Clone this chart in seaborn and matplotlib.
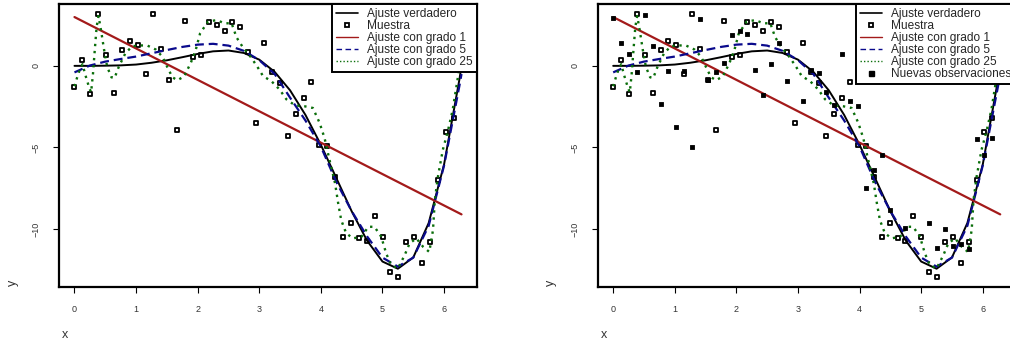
import matplotlib
matplotlib.use('Agg')
import matplotlib.pyplot as plt
import seaborn as sns
from matplotlib.lines import Line2D

# muestra original (50 puntos) y nuevas observaciones en las mismas x
x_muestra = [0.000, 0.128, 0.256, 0.385, 0.513, 0.641, 0.769, 0.898, 1.026, 1.154,
             1.282, 1.411, 1.539, 1.667, 1.795, 1.923, 2.052, 2.180, 2.308, 2.436,
             2.565, 2.693, 2.821, 2.949, 3.077, 3.206, 3.334, 3.462, 3.590, 3.719,
             3.847, 3.975, 4.103, 4.232, 4.360, 4.488, 4.616, 4.744, 4.873, 5.001,
             5.129, 5.257, 5.386, 5.514, 5.642, 5.770, 5.899, 6.027, 6.155, 6.283]
y_muestra = [-1.29, 0.37, -1.70, 3.15, 0.65, -1.64, 1.00, 1.54, 1.25, -0.47,
             3.15, 1.04, -0.86, -3.96, 2.77, 0.53, 0.69, 2.70, 2.52, 2.11,
             2.70, 2.40, 0.82, -3.50, 1.41, -0.35, -1.04, -4.27, -2.97, -1.99,
             -0.98, -4.84, -4.92, -6.82, -10.51, -9.65, -10.57, -10.72, -9.18, -10.47,
             -12.62, -12.91, -10.82, -10.51, -12.09, -10.82, -6.97, -4.06, -3.20, 1.00]
y_nuevas = [2.93, 1.37, 0.71, -0.39, 3.11, 1.19, -2.34, -0.29, -3.75, -0.29,
            -4.96, 2.86, -0.88, -0.39, 0.18, 1.88, 2.11, 1.94, -0.23, -1.81,
            0.14, 1.37, -0.92, 4.40, -2.15, -0.25, -0.42, -1.62, -2.38, 0.70,
            -2.13, -2.44, -7.50, -6.36, -5.48, -8.85, -14.60, -9.93, -14.30, -13.60,
            -9.62, -11.17, -9.99, -11.05, -10.93, -11.20, -4.51, -5.45, -4.44, 1.50]

# curvas
x_curva = [0.0, 0.25, 0.5, 0.75, 1.0, 1.25, 1.5, 1.75, 2.0, 2.25, 2.5, 2.75, 3.0,
           3.25, 3.5, 3.75, 4.0, 4.25, 4.5, 4.75, 5.0, 5.25, 5.5, 5.75, 6.0, 6.25, 6.283]
y_verdadero = [0.00, 0.00, 0.01, 0.03, 0.08, 0.19, 0.34, 0.53, 0.73, 0.89, 0.94, 0.79, 0.38,
               -0.37, -1.50, -3.01, -4.84, -6.87, -8.91, -10.71, -11.99, -12.43, -11.74,
               -9.63, -6.04, -0.81, 0.00]
y_grado5 = [-0.40, 0.02, 0.26, 0.42, 0.57, 0.77, 0.97, 1.16, 1.30, 1.35, 1.24, 0.92, 0.35,
            -0.50, -1.95, -3.35, -4.95, -7.10, -8.90, -10.45, -11.75, -12.30, -11.75,
            -9.80, -6.10, -1.20, -0.50]
x_grado1 = [0.0, 6.283]
y_grado1 = [2.99, -9.10]
x_grado25 = [0.00, 0.04, 0.08, 0.13, 0.18, 0.24, 0.27, 0.30, 0.33, 0.36, 0.39, 0.43, 0.48,
             0.53, 0.60, 0.65, 0.72, 0.83, 0.94, 1.05, 1.18, 1.32, 1.43, 1.51, 1.59, 1.67,
             1.78, 1.89, 1.97, 2.04, 2.17, 2.31, 2.44, 2.55, 2.63, 2.74, 2.85, 2.96, 3.06,
             3.20, 3.33, 3.44, 3.58, 3.74, 3.87, 3.98, 4.06, 4.14, 4.23, 4.28, 4.33, 4.41,
             4.52, 4.66, 4.77, 4.87, 4.98, 5.06, 5.14, 5.25, 5.36, 5.44, 5.55, 5.66, 5.76,
             5.82, 5.85, 5.90, 5.98, 6.06, 6.14, 6.22, 6.283]
y_grado25 = [-1.25, -0.75, -0.30, 0.10, -0.60, -1.35, -1.62, -0.50, 1.00, 2.40, 3.05, 2.20, 1.00,
             -0.05, -0.70, -0.75, -0.05, 0.80, 1.20, 1.25, 1.25, 1.00, 0.55, -0.10, -0.70, -0.88,
             -0.65, 0.20, 1.00, 2.00, 2.72, 2.80, 2.60, 2.62, 1.75, 1.10, 0.60, 0.00, -0.62,
             -0.95, -1.45, -2.05, -2.42, -2.48, -2.58, -3.50, -4.43, -5.76, -7.19, -8.40, -9.45, -10.25,
             -10.57, -10.47, -9.86, -9.86, -10.47, -11.49, -12.20, -12.42, -11.60, -10.88, -10.57, -11.09, -11.40,
             -10.06, -8.22, -6.79, -5.14, -4.02, -2.69, -0.80, 1.00]

etiquetas = ['Ajuste verdadero', 'Muestra', 'Ajuste con grado 1',
             'Ajuste con grado 5', 'Ajuste con grado 25']
etiqueta_nuevas = 'Nuevas observaciones'

ROJO = '#a31a1a'
AZUL = '#0a0a8c'
VERDE = '#0a6e0a'

sns.set_theme(style='white')
plt.rcParams['font.family'] = ['Liberation Sans', 'DejaVu Sans']


def dibujar_panel(ax, con_nuevas):
    sns.scatterplot(x=x_muestra, y=y_muestra, marker='s', s=11, color='white',
                    edgecolor='black', linewidth=1.3, ax=ax, zorder=2, legend=False)
    sns.lineplot(x=x_curva, y=y_verdadero, color='black', lw=1.4, ax=ax,
                 estimator=None, sort=False, zorder=3)
    sns.lineplot(x=x_grado1, y=y_grado1, color=ROJO, lw=1.6, ax=ax,
                 estimator=None, sort=False, zorder=3)
    sns.lineplot(x=x_curva, y=y_grado5, color=AZUL, lw=1.6, ax=ax, estimator=None,
                 sort=False, zorder=3, linestyle=(0, (4, 2.2)))
    sns.lineplot(x=x_grado25, y=y_grado25, color=VERDE, lw=1.7, ax=ax, estimator=None,
                 sort=False, zorder=3, linestyle=(0, (1, 2.0)))

    handles = [
        Line2D([], [], color='black', lw=1.2),
        Line2D([], [], ls='none', marker='s', ms=3.2, mfc='white', mec='black', mew=1.3),
        Line2D([], [], color=ROJO, lw=1.0),
        Line2D([], [], color=AZUL, lw=1.0, ls=(0, (4, 2.5))),
        Line2D([], [], color=VERDE, lw=1.0, ls=(0, (1, 1.5))),
    ]
    labels = list(etiquetas)
    if con_nuevas:
        sns.scatterplot(x=x_muestra, y=y_nuevas, marker='s', s=12, color='black',
                        edgecolor='black', linewidth=0.6, ax=ax, zorder=4, legend=False)
        handles.append(Line2D([], [], ls='none', marker='s', ms=3.6, mfc='black', mec='black'))
        labels.append(etiqueta_nuevas)

    ax.set_xlim(-0.2513, 6.5345)
    ax.set_ylim(-13.55, 3.79)
    ax.set_xticks([0, 1, 2, 3, 4, 5, 6])
    ax.set_yticks([-10, -5, 0])
    ax.set_xlabel('')
    ax.set_ylabel('')
    ax.tick_params(axis='both', direction='out', length=4, width=0.8, color='black',
                   labelsize=6.5, labelcolor='#333333', bottom=True, left=True)
    ax.tick_params(axis='x', pad=9)
    ax.tick_params(axis='y', pad=9, labelrotation=90)
    plt.setp(ax.get_yticklabels(), va='center')
    for s in ax.spines.values():
        s.set_color('black')
        s.set_linewidth(1.6)

    leg = ax.legend(handles, labels, loc='upper right', borderaxespad=0,
                    fontsize=8.6, labelspacing=0.0, handlelength=1.8,
                    handletextpad=0.8, borderpad=0.35, frameon=True, fancybox=False,
                    framealpha=1, edgecolor='black')
    leg.get_frame().set_linewidth(1.4)
    leg.set_zorder(10)


fig = plt.figure(figsize=(10.1, 3.45), dpi=100)
W, H = 1010.0, 345.0
ax_izq = fig.add_axes([59 / W, 58 / H, 418 / W, 283 / H])
ax_der = fig.add_axes([597.7 / W, 58 / H, 418 / W, 283 / H])

dibujar_panel(ax_izq, False)
dibujar_panel(ax_der, True)

for x0 in (62, 601):
    fig.text(x0 / W, 1 - 335 / H, 'x', fontsize=9, color='#333333', ha='left', va='center')
for x0 in (13, 551):
    fig.text(x0 / W, 1 - 283 / H, 'y', fontsize=9, color='#333333', rotation=90,
             ha='center', va='center')

fig.savefig('out.png', dpi=100)
plt.close(fig)
